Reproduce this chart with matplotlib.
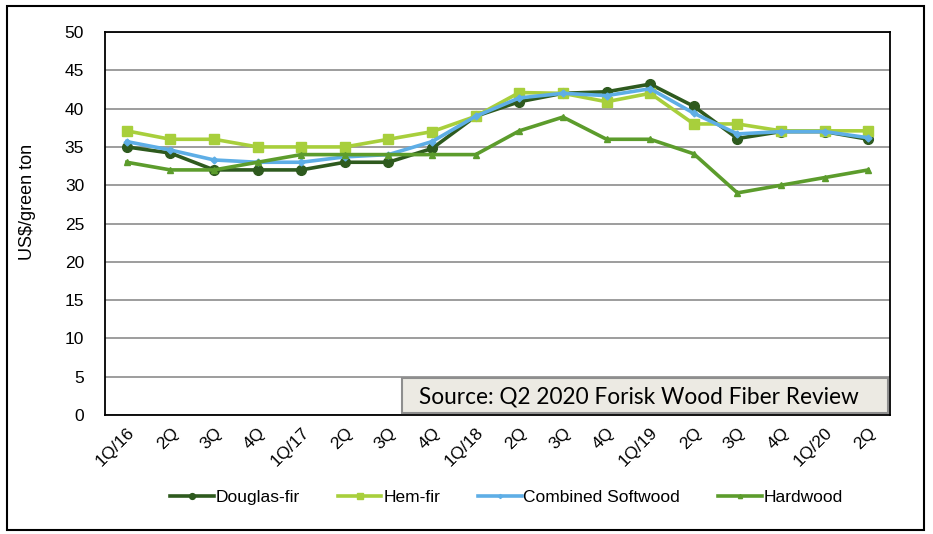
import matplotlib
matplotlib.use("Agg")
import matplotlib.pyplot as plt
from matplotlib.patches import Rectangle

quarters = ["1Q/16", "2Q", "3Q", "4Q", "1Q/17", "2Q", "3Q", "4Q", "1Q/18",
            "2Q", "3Q", "4Q", "1Q/19", "2Q", "3Q", "4Q", "1Q/20", "2Q"]
douglas_fir = [35, 34.2, 32, 32, 32, 33, 33, 34.8, 39, 40.9, 42, 42.2, 43.2, 40.3, 36.1, 37, 37, 36]
hem_fir = [37.1, 36, 36, 35, 35, 35, 36, 37, 39, 42.1, 42, 40.9, 42, 38, 38, 37.1, 37.1, 37.1]
combined = [35.7, 34.6, 33.3, 33, 33, 33.7, 34, 35.7, 39, 41.4, 42, 41.7, 42.6, 39.4, 36.7, 37, 37, 36.2]
hardwood = [33, 32, 32, 33, 34, 34, 34, 34, 34, 37.1, 38.9, 36, 36, 34.1, 29, 30, 31, 32]

series = [
    ("Douglas-fir", douglas_fir, "#2E5A1E", "o", 7),
    ("Hem-fir", hem_fir, "#A8CF3C", "s", 7),
    ("Combined Softwood", combined, "#5EAEE6", "D", 3.5),
    ("Hardwood", hardwood, "#5C9C2C", "^", 5),
]

plt.rcParams["font.family"] = ["Liberation Sans", "DejaVu Sans"]

fig = plt.figure(figsize=(9.33, 5.34), dpi=100)
ax = fig.add_axes([0.1125, 0.2228, 0.8415, 0.7172])

x = range(len(quarters))
for name, vals, col, mk, ms in series:
    ax.plot(x, vals, color=col, lw=2.6, marker=mk, ms=ms, label=name)

ax.set_xlim(-0.5, len(quarters) - 0.5)
ax.set_ylim(0, 50)
ax.set_yticks(range(0, 51, 5))
ax.set_xticks(list(x))
ax.set_xticklabels(quarters, rotation=45, ha="right", va="top",
                   rotation_mode="anchor", fontsize=12.5)
ax.tick_params(axis="y", length=0, pad=15, labelsize=12.5)
ax.tick_params(axis="x", length=0, pad=7)
ax.yaxis.grid(True, color="#8C8C8C", lw=1.2)
ax.set_axisbelow(True)
for s in ax.spines.values():
    s.set_color("black")
    s.set_linewidth(1.3)
ax.set_ylabel("US$/green ton", fontsize=13)
ax.yaxis.set_label_coords(-0.088, 0.556)

# source box
ax.text(0.400, 0.047, "Source: Q2 2020 Forisk Wood Fiber Review",
        transform=ax.transAxes, fontsize=16.3, family=["Lato", "DejaVu Sans"],
        va="center", ha="left", zorder=5)
ax.add_patch(Rectangle((0.378, 0.005), 0.619, 0.091, transform=ax.transAxes,
                       facecolor="#ECEAE3", edgecolor="#8E8E8E", lw=1.5, zorder=4))

leg = fig.legend(loc="center", bbox_to_anchor=(0.543, 0.069), ncol=4, frameon=False,
                 fontsize=12.5, handlelength=2.5, handletextpad=0.1, columnspacing=2.2,
                 markerscale=0.6)

fig.patches.append(Rectangle((0.0075, 0.008), 0.983, 0.98, transform=fig.transFigure,
                             fill=False, edgecolor="black", lw=1.5))

fig.savefig("out.png", dpi=100)
